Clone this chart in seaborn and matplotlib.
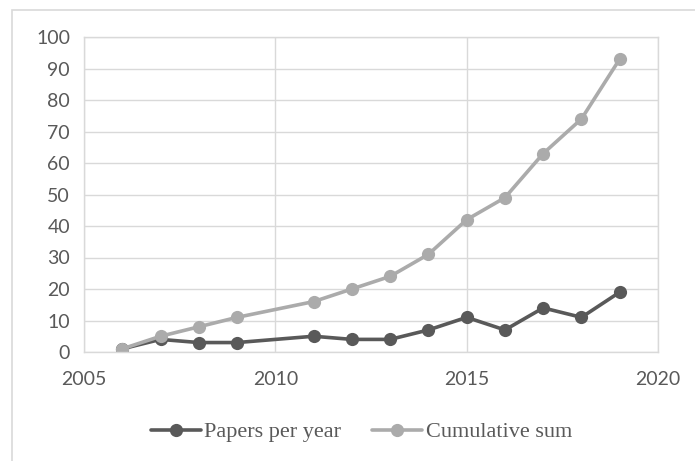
import pandas as pd
import seaborn as sns
import matplotlib.pyplot as plt
from matplotlib.patches import Rectangle

# Data
years = [2006, 2007, 2008, 2009, 2011, 2012, 2013, 2014, 2015, 2016, 2017, 2018, 2019]
papers = [1, 4, 3, 3, 5, 4, 4, 7, 11, 7, 14, 11, 19]
cumulative = [1, 5, 8, 11, 16, 20, 24, 31, 42, 49, 63, 74, 93]

df = pd.DataFrame({'year': years, 'Papers per year': papers, 'Cumulative sum': cumulative})

sns.set_style('white')
plt.rcParams['font.family'] = ['Lato', 'DejaVu Sans']

fig = plt.figure(figsize=(6.95, 4.61), dpi=100)
ax = fig.add_axes([84 / 695, 1 - 352 / 461, (658 - 84) / 695, (352 - 37) / 461])

# outer chart border (only top and left visible)
fig.patches.append(Rectangle((12 / 695, -0.1), 1.2, 1.1 - 10 / 461, transform=fig.transFigure,
                             fill=False, edgecolor='#D9D9D9', linewidth=1.2))

sns.lineplot(data=df, x='year', y='Papers per year', ax=ax, color='#595959', linewidth=2.6,
             marker='o', markersize=9.5, markeredgewidth=0, label='Papers per year')
sns.lineplot(data=df, x='year', y='Cumulative sum', ax=ax, color='#ABABAB', linewidth=2.6,
             marker='o', markersize=9.5, markeredgewidth=0, label='Cumulative sum')

ax.set_xlim(2005, 2020)
ax.set_ylim(0, 100)
ax.set_xticks([2005, 2010, 2015, 2020])
ax.set_yticks(range(0, 101, 10))
ax.grid(True, color='#D9D9D9', linewidth=1)
ax.set_axisbelow(True)
for s in ax.spines.values():
    s.set_color('#D9D9D9')
    s.set_linewidth(1)
ax.set_xlabel('')
ax.set_ylabel('')
ax.tick_params(axis='both', length=0, labelsize=14, labelcolor='#595959')
ax.tick_params(axis='x', pad=14)
ax.tick_params(axis='y', pad=10)

handles, labels = ax.get_legend_handles_labels()
ax.get_legend().remove()
fig.legend(handles, labels, loc='center', bbox_to_anchor=(0.52, 1 - 432 / 461), ncol=2,
           frameon=False, handlelength=2.25, handletextpad=0.15, columnspacing=1.4,
           prop={'family': 'Liberation Serif', 'size': 16}, labelcolor='#595959')

fig.savefig('out.png', dpi=100)
